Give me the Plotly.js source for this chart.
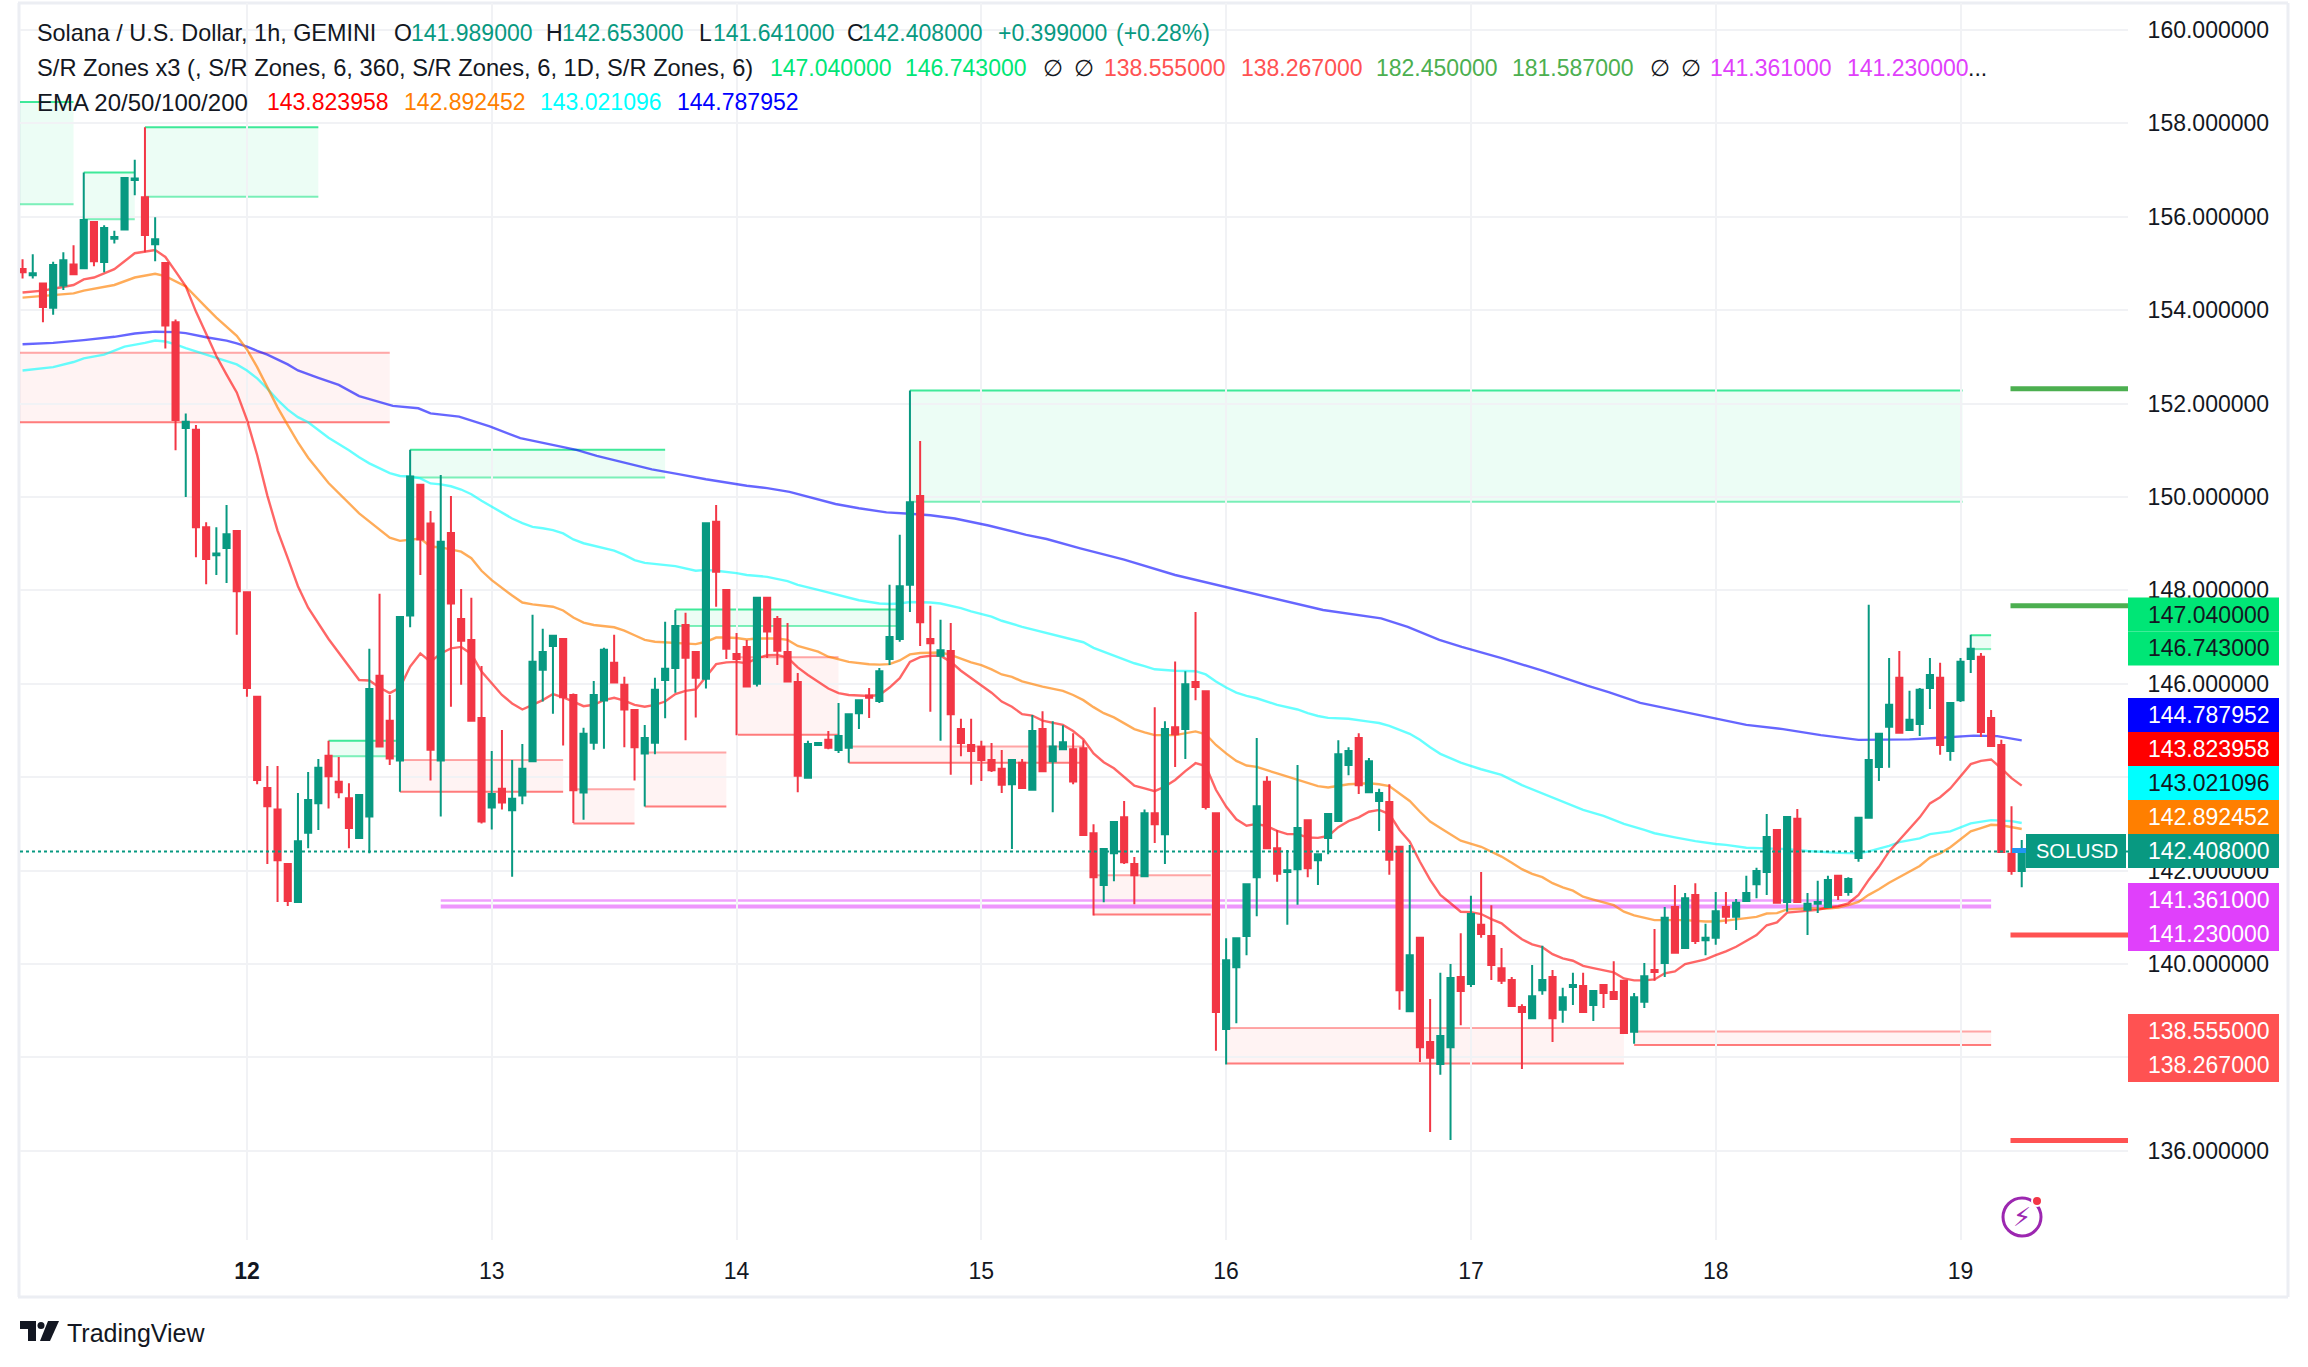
<!DOCTYPE html>
<html>
<head>
<meta charset="utf-8">
<script src="https://cdn.plot.ly/plotly-3.0.1.min.js"></script>
<style>html,body{margin:0;padding:0;background:#fff}#chart{width:2308px;height:1367px}</style>
</head>
<body>
<div id="chart"></div>
<script>
// Hourly candles: first candle is hour 2 counted from the 11th 00:00
const opens = [
154.88,154.75,154.57,154.05,154.53,154.98,154.90,155.89,155.03,155.53,
155.73,156.79,156.42,155.41,155.01,153.74,151.48,151.44,149.35,148.75,
148.91,149.27,147.96,145.72,143.77,143.31,142.14,141.33,142.81,143.44,
144.46,143.90,143.55,142.70,143.16,146.17,145.21,144.36,147.46,150.26,
149.43,144.36,149.23,147.39,146.94,145.27,143.35,143.75,143.29,143.61,
144.34,146.30,146.81,146.96,145.76,143.67,144.74,145.64,146.45,145.98,
145.44,144.51,144.74,146.08,146.34,147.26,146.68,146.11,149.47,148.01,
146.64,146.79,146.00,147.84,147.39,146.68,146.04,143.99,144.69,144.80,
144.58,144.63,145.37,145.75,145.63,146.53,146.96,148.12,150.02,146.96,
146.60,146.70,145.03,144.69,144.65,144.37,144.18,143.85,144.31,143.73,
145.03,144.34,144.60,144.60,144.62,142.80,141.69,142.37,143.14,142.14,
141.88,143.23,142.78,145.07,145.03,146.04,145.84,143.23,138.61,139.93,
140.60,141.86,143.90,142.48,141.97,142.03,143.08,142.22,142.70,143.06,
144.26,144.84,143.68,143.49,143.47,142.51,138.99,140.56,138.33,137.86,
138.22,139.72,139.57,140.84,140.60,139.91,139.66,139.08,138.84,139.44,
139.72,139.02,139.51,139.53,139.12,139.55,139.40,139.64,138.55,139.19,
139.87,140.02,141.22,140.34,141.48,140.51,140.56,141.22,141.01,141.35,
141.71,141.97,142.87,141.33,143.11,141.16,141.29,141.22,141.89,141.54,
142.27,143.13,144.22,145.08,146.13,145.01,145.14,145.91,146.13,144.56,
145.65,146.53,146.58,145.27,144.69,142.36,141.989];
const highs = [
155.09,155.20,154.57,155.04,155.24,155.39,156.95,155.89,155.82,155.70,
156.85,157.22,157.92,155.99,155.01,153.80,151.79,151.54,149.46,149.35,
149.83,149.27,147.96,145.72,144.24,144.24,142.16,143.66,144.11,144.39,
144.78,144.43,143.87,143.62,146.75,147.93,145.76,147.43,151.01,150.27,
149.70,150.47,150.02,148.03,147.84,146.38,144.56,145.01,144.37,144.71,
147.48,147.18,147.03,146.96,145.79,145.06,146.06,146.77,147.05,146.15,
145.44,145.12,146.13,147.33,147.58,147.52,146.68,149.44,149.83,148.01,
147.09,146.94,147.84,147.84,147.45,147.30,146.23,144.78,144.73,144.99,
145.59,145.37,145.67,145.91,146.34,148.12,149.19,152.28,151.20,147.67,
147.37,147.30,145.25,145.25,144.78,144.73,144.58,144.37,144.39,145.33,
145.41,145.20,145.11,144.94,144.79,142.99,142.46,143.04,143.49,142.29,
143.31,145.50,145.20,146.48,146.27,147.54,145.84,143.23,140.55,140.55,
141.73,144.84,144.02,142.87,142.44,144.26,143.08,142.35,143.21,144.79,
144.64,144.94,144.41,143.75,143.85,142.51,142.55,140.56,139.25,139.81,
140.00,140.66,141.46,141.97,141.26,140.34,139.72,139.14,139.98,140.39,
139.87,139.49,139.81,139.81,139.42,139.57,140.06,139.64,139.38,140.02,
140.75,141.22,141.69,141.52,141.73,140.86,141.54,141.54,141.39,141.89,
142.06,143.21,142.87,143.15,143.32,141.52,141.78,141.89,141.91,141.86,
143.13,147.69,144.93,146.55,146.70,145.85,145.91,146.55,146.45,145.59,
146.55,147.05,146.66,145.44,144.80,143.38,142.653];
const lows = [
154.68,154.68,153.74,153.90,154.43,154.77,154.90,154.94,154.81,155.43,
155.73,156.46,155.24,155.05,153.18,151.00,150.00,148.71,148.13,148.33,
148.16,147.05,145.72,143.85,142.14,141.33,141.24,141.33,142.48,142.87,
143.33,143.55,142.48,142.70,142.37,144.66,144.26,143.69,147.21,148.33,
143.93,143.16,145.51,145.98,145.21,143.01,142.88,143.31,141.87,143.42,
144.34,145.62,145.36,144.68,143.02,143.09,144.59,144.61,146.03,144.64,
143.93,143.37,144.49,145.26,145.81,144.79,145.28,145.90,147.65,146.53,
144.90,145.92,145.94,146.55,146.40,146.05,143.68,143.99,144.69,144.60,
144.52,144.31,145.03,145.27,145.59,146.40,146.90,147.54,146.81,145.40,
144.78,144.05,144.45,143.84,143.92,144.11,143.66,142.46,143.77,143.73,
144.13,143.25,144.60,143.85,142.76,141.04,141.32,141.77,142.14,141.28,
141.88,142.59,142.14,144.22,144.39,145.65,143.31,138.14,137.85,138.73,
140.19,141.02,142.48,141.76,140.84,141.27,141.86,141.69,142.35,143.06,
144.04,143.64,143.68,142.85,141.91,139.02,138.97,137.90,136.40,137.63,
136.23,138.69,139.51,140.56,139.66,139.57,139.08,137.75,138.84,139.34,
138.33,138.74,139.12,138.97,138.78,139.06,139.25,138.52,138.29,139.06,
139.64,139.72,140.24,140.32,140.43,140.19,140.41,140.86,140.73,141.35,
141.41,141.48,141.29,141.12,141.33,140.62,141.09,141.22,141.37,141.46,
142.19,143.13,143.92,144.20,144.93,144.99,144.88,145.46,144.48,144.35,
145.61,146.23,144.86,144.67,142.40,141.91,141.641];
const closes = [
154.81,154.79,154.07,154.97,155.07,154.77,155.93,155.05,155.76,155.57,
156.83,156.82,155.61,155.52,153.67,151.65,151.61,149.35,148.67,148.79,
149.20,147.98,145.91,143.94,143.38,142.22,141.35,142.63,143.51,144.20,
144.02,143.68,142.91,143.62,145.89,144.66,144.40,147.43,150.44,149.09,
144.59,149.04,147.72,146.92,145.21,143.05,143.64,143.46,143.54,144.18,
146.47,146.68,147.03,145.71,143.72,144.93,145.76,146.73,146.03,145.45,
144.64,144.84,145.87,146.32,147.24,146.56,146.13,149.44,148.40,146.75,
146.53,145.94,147.84,147.12,146.71,146.05,144.03,144.71,144.73,144.63,
144.88,145.35,145.65,145.70,146.27,147.00,148.09,149.89,147.32,146.87,
146.72,145.35,144.73,144.56,144.37,144.15,143.84,144.37,143.77,144.99,
144.13,144.66,144.75,143.91,142.76,141.86,142.46,143.04,142.18,141.90,
143.23,142.99,145.03,144.92,145.99,145.93,143.36,138.97,140.08,140.55,
141.71,143.38,142.48,141.93,142.01,142.91,142.05,142.35,143.21,144.49,
144.56,143.83,144.34,143.66,142.23,139.44,140.19,138.22,137.99,138.46,
139.70,139.42,141.07,140.64,139.98,139.64,139.10,138.97,139.31,139.66,
138.84,139.29,139.55,138.97,139.42,139.38,139.25,138.52,139.29,139.74,
139.83,140.99,140.24,141.41,140.49,140.56,141.13,141.01,141.31,141.52,
141.99,142.72,141.31,143.15,141.33,141.29,141.33,141.80,141.48,141.82,
143.13,144.37,144.93,145.55,144.95,145.23,145.87,146.19,144.69,145.59,
146.47,146.75,144.97,144.67,142.40,141.99,142.408];
const firstHour = 2;
const hours = opens.map((_, i) => firstHour + i);

// EMA lines
const ema20Hours = [2,4,5,7,8,9,11,13,15,16,17,18,19,20,21,22,23,24,25,26,27,28,29,30,32,35,36,37,38,39,40,41,42,43,44,45,46,47,48,49,50,51,52,53,54,55,56,57,58,59,60,61,62,63,64,65,66,67,68,69,70,71,72,73,74,75,76,77,78,79,80,81,82,83,84,85,86,87,88,89,90,91,92,93,94,95,96,97,98,99,100,101,102,103,104,105,106,107,108,109,110,111,112,113,114,115,116,117,118,119,120,121,122,123,124,125,126,127,128,129,130,131,132,133,134,135,136,137,138,139,140,141,142,143,144,145,146,147,148,149,150,151,152,153,154,155,156,157,158,159,160,161,162,163,164,165,166,167,168,169,170,171,172,173,174,175,176,177,178,179,180,181,182,183,184,185,186,187,188,189,190,191,192,193,194,195,196,197,198];
const ema20 = [154.38,154.42,154.46,154.54,154.66,154.70,154.88,155.22,155.29,155.14,154.83,154.51,153.97,153.49,153.02,152.62,152.24,151.65,150.90,150.03,149.28,148.69,148.09,147.63,146.96,146.08,146.07,145.92,145.80,145.92,146.37,146.65,146.47,146.65,146.76,146.79,146.64,146.26,146.01,145.76,145.58,145.45,145.55,145.65,145.78,145.71,145.62,145.52,145.55,145.65,145.70,145.64,145.55,145.51,145.55,145.62,145.78,145.85,145.88,146.15,146.42,146.46,146.47,146.44,146.55,146.61,146.62,146.56,146.35,146.19,146.05,145.90,145.80,145.76,145.75,145.74,145.76,145.92,146.12,146.47,146.57,146.60,146.60,146.47,146.28,146.12,145.97,145.81,145.62,145.51,145.35,145.32,145.21,145.17,145.12,144.99,144.81,144.51,144.32,144.19,144.01,143.82,143.76,143.70,143.80,143.94,144.13,144.30,144.24,143.73,143.37,143.10,142.96,143.00,142.95,142.85,142.78,142.78,142.71,142.70,142.74,142.93,143.06,143.14,143.26,143.30,143.21,142.87,142.62,142.19,141.80,141.48,141.30,141.12,141.11,141.07,140.96,140.87,140.69,140.53,140.42,140.36,140.21,140.12,140.07,139.96,139.91,139.87,139.82,139.69,139.65,139.65,139.67,139.80,139.84,140.00,140.05,140.10,140.19,140.27,140.37,140.49,140.62,140.83,140.89,141.10,141.12,141.14,141.16,141.21,141.24,141.30,141.48,141.80,142.08,142.41,142.66,142.91,143.14,143.44,143.57,143.76,144.03,144.28,144.35,144.38,144.19,143.98,143.82];
const ema50Hours = [2,5,7,8,11,13,15,16,18,20,21,23,24,25,26,27,28,29,30,32,35,36,38,39,40,41,42,43,45,46,47,48,50,51,52,54,55,56,57,58,60,61,62,63,64,66,68,69,70,71,72,73,74,76,77,78,80,81,83,85,86,87,88,89,90,92,93,95,96,97,98,99,100,102,104,105,106,107,108,109,110,111,112,113,115,116,117,118,119,120,121,122,123,125,126,127,128,129,130,131,132,134,135,136,137,138,139,140,141,143,145,147,148,149,150,151,152,153,154,155,156,158,159,160,162,163,165,167,168,169,171,172,173,174,175,177,179,180,181,182,183,184,185,186,187,188,189,190,191,192,193,194,195,196,197,198];
const ema50 = [154.27,154.32,154.36,154.42,154.54,154.70,154.78,154.73,154.51,154.06,153.84,153.45,153.16,152.78,152.35,151.92,151.54,151.17,150.84,150.30,149.65,149.47,149.13,149.06,149.09,149.11,148.94,148.92,148.83,148.69,148.42,148.22,147.89,147.74,147.70,147.65,147.57,147.42,147.31,147.26,147.21,147.14,147.04,146.94,146.90,146.88,146.85,146.90,146.99,146.99,146.98,146.95,146.97,146.97,146.94,146.81,146.69,146.58,146.47,146.42,146.41,146.42,146.50,146.63,146.66,146.67,146.62,146.46,146.40,146.31,146.20,146.15,146.05,145.94,145.85,145.76,145.65,145.50,145.37,145.28,145.15,145.03,144.96,144.90,144.90,144.94,144.98,144.92,144.69,144.51,144.35,144.25,144.22,144.08,144.01,143.95,143.88,143.81,143.78,143.81,143.85,143.87,143.85,143.81,143.65,143.49,143.26,143.05,142.91,142.64,142.51,142.30,142.17,142.03,141.93,141.86,141.73,141.64,141.57,141.44,141.38,141.26,141.12,141.04,140.94,140.94,140.94,140.91,140.91,140.93,140.98,141.01,141.08,141.09,141.17,141.19,141.19,141.21,141.26,141.33,141.48,141.60,141.74,141.86,141.98,142.10,142.28,142.37,142.50,142.67,142.84,142.91,142.98,142.97,142.93,142.89];
const ema100Hours = [2,5,7,8,10,12,14,15,16,17,18,20,22,23,24,25,26,27,28,29,30,32,34,35,36,37,38,39,40,41,42,43,44,45,46,47,48,50,51,52,53,54,55,56,57,58,60,61,62,63,65,66,68,69,70,71,72,73,75,77,78,80,82,84,86,87,88,89,91,92,94,95,97,98,100,102,104,106,107,108,110,111,112,113,115,117,118,119,120,121,122,123,125,127,128,129,130,132,134,135,136,138,139,140,141,142,143,145,147,149,151,153,155,157,159,161,162,164,166,168,169,171,173,175,177,180,182,183,185,186,188,189,191,193,195,197,198];
const ema100 = [152.71,152.78,152.89,152.97,153.05,153.22,153.30,153.35,153.33,153.27,153.19,153.05,152.91,152.84,152.71,152.54,152.32,152.08,151.87,151.71,151.60,151.27,151.00,150.85,150.72,150.61,150.51,150.45,150.44,150.40,150.29,150.27,150.23,150.16,150.06,149.92,149.79,149.54,149.44,149.36,149.33,149.29,149.22,149.09,149.01,148.96,148.85,148.76,148.65,148.59,148.54,148.52,148.42,148.44,148.42,148.40,148.37,148.33,148.29,148.20,148.12,148.01,147.90,147.79,147.72,147.71,147.72,147.75,147.74,147.72,147.62,147.55,147.44,147.35,147.22,147.11,147.01,146.89,146.77,146.69,146.52,146.44,146.38,146.31,146.28,146.27,146.20,146.05,145.92,145.81,145.74,145.69,145.55,145.45,145.37,145.31,145.27,145.25,145.19,145.16,145.10,144.93,144.80,144.64,144.50,144.40,144.31,144.17,144.05,143.83,143.65,143.48,143.30,143.17,143.00,142.87,142.80,142.71,142.63,142.57,142.55,142.49,142.48,142.46,142.42,142.38,142.37,142.41,142.53,142.61,142.69,142.78,142.84,143.01,143.08,143.06,143.02];
const ema200Hours = [2,5,8,11,13,15,17,18,20,22,23,24,25,26,28,29,31,33,35,38.3,40.8,42,44.8,47.8,50.8,54.3,56.3,58.3,61,63.7,66.3,69,73,75,77.2,79.4,81.7,84,86.7,89,91,93.4,96.7,100.4,102.4,105.7,110,115,120,125.2,129.5,135.2,137.8,140.9,143.1,147,151,155.4,157.5,160.6,166.8,171,174.6,178.3,182,187,189.6,193.3,195.6,198];
const ema200 = [153.27,153.30,153.36,153.43,153.50,153.54,153.53,153.51,153.42,153.35,153.29,153.22,153.13,153.05,152.84,152.71,152.55,152.40,152.16,151.95,151.90,151.79,151.72,151.51,151.26,151.11,151.01,150.88,150.73,150.59,150.49,150.38,150.24,150.19,150.11,149.99,149.85,149.76,149.67,149.64,149.61,149.54,149.39,149.19,149.10,148.90,148.66,148.33,148.07,147.79,147.58,147.40,147.22,146.94,146.79,146.55,146.28,145.96,145.82,145.59,145.31,145.12,145.03,144.90,144.80,144.81,144.84,144.89,144.88,144.79];

// S/R zones: start hour, end hour, top price, bottom price, kind
const zoneStart  = [1, 8, 14, 1, 40, 32, 39, 56, 63, 66, 89, 72, 83, 107, 120, 160, 193];
const zoneEnd    = [7, 13, 31, 38, 65, 38.6, 55, 62, 71, 88, 192.2, 82, 106, 118.5, 159, 195, 195];
const zoneTop    = [158.46,156.95,157.92,153.09,151.01,144.78,144.37,143.74,144.53,147.59,152.28,146.57,144.66,141.90,138.63,138.555,147.04];
const zoneBottom = [156.27,155.95,156.43,151.60,150.42,144.45,143.69,143.01,143.37,147.24,149.90,144.91,144.31,141.06,137.87,138.267,146.743];
const zoneKind   = ['g','g','g','r','g','g','r','r','r','g','g','r','r','r','r','r','g'];
const purpleStart = 43, purpleEnd = 195, purpleTop = 141.361, purpleBottom = 141.23;
const markerStart = 196.9;
const markerLevels = [152.32, 147.67, 140.62, 136.22];
const markerColors = ['#4caf50', '#4caf50', '#ff5252', '#ff5252'];

// Axis labels
const priceTicks = [136,138,140,142,144,146,148,150,152,154,156,158,160];
const dayTicks = [24,48,72,96,120,144,168,192];
const dayLabels = ['<b>12</b>','13','14','15','16','17','18','19'];
const lastPrice = 142.408;

// Price labels on the axis
const tagText  = ['147.040000','146.743000','144.787952','143.823958','143.021096','142.892452','142.408000','141.361000','141.230000','138.555000','138.267000'];
const tagFill  = ['#00e676','#00e676','#0000ff','#ff0000','#00ffff','#ff7f00','#089981','#e040fb','#e040fb','#ff5252','#ff5252'];
const tagInk   = ['#131722','#131722','#ffffff','#ffffff','#131722','#ffffff','#ffffff','#ffffff','#ffffff','#ffffff','#ffffff'];
const tagTop   = [597.5,631.5,698,732,766,800,834,883,917,1014,1048];

// Legend rows
const TEAL='#089981', INK='#131722', GRN='#00e676', RED='#ff5252', DGR='#4caf50', PUR='#e040fb';
const legendItems = [
 ['Solana / U.S. Dollar, 1h, GEMINI',36,33,INK,23.4],['O',393,33,INK,23],['141.989000',410,33,TEAL,23],['H',545,33,INK,23],['142.653000',561,33,TEAL,23],['L',698,33,INK,23],['141.641000',712,33,TEAL,23],['C',846,33,INK,23],['142.408000',860,33,TEAL,23],['+0.399000',997,33,TEAL,23],['(+0.28%)',1115,33,TEAL,23],
 ['S/R Zones x3 (, S/R Zones, 6, 360, S/R Zones, 6, 1D, S/R Zones, 6)',36,68,INK,23.7],['147.040000',769,68,GRN,23],['146.743000',904,68,GRN,23],['∅',1042,68,INK,23],['∅',1073,68,INK,23],['138.555000',1103,68,RED,23],['138.267000',1240,68,RED,23],['182.450000',1375,68,DGR,23],['181.587000',1511,68,DGR,23],['∅',1649,68,INK,23],['∅',1680,68,INK,23],['141.361000',1709,68,PUR,23],['141.230000',1846,68,PUR,23],['...',1967,68,INK,23],
 ['EMA 20/50/100/200',36,102,INK,24],['143.823958',266,102,'#ff0000',23],['142.892452',403,102,'#ff7f00',23],['143.021096',539,102,'#00ffff',23],['144.787952',676,102,'#0000ff',23]
];

// ---- page geometry
const FONT = '"Liberation Sans", Arial, sans-serif';
const L = 20, R = 2128, T = 3, B = 1240;
const pxX = v => (v - L) / (R - L);
const pxY = v => 1 - (v - T) / (B - T);
const xRange = [1.75, 208.42];
const yRange = [134.09, 160.578];

const shapes = [];
const annotations = [];

// frame
const frame = '#eceef3';
[[18,3,2288,3],[19,3,19,1297],[18,1297,2288,1297],[2288,3,2288,1297]].forEach(f => shapes.push({
  type:'line', xref:'paper', yref:'paper', layer:'below',
  x0:pxX(f[0]), x1:pxX(f[2]), y0:pxY(f[1]), y1:pxY(f[3]), line:{color:frame, width:3}
}));

// zones
zoneStart.forEach((s, i) => {
  const g = zoneKind[i] === 'g';
  const fill = g ? 'rgba(0,230,118,0.075)' : 'rgba(255,82,82,0.07)';
  const topC = g ? 'rgba(0,225,120,0.75)' : 'rgba(255,82,82,0.5)';
  const botC = g ? 'rgba(0,225,120,0.5)' : 'rgba(255,82,82,0.75)';
  shapes.push({type:'rect', xref:'x', yref:'y', layer:'below', x0:s, x1:zoneEnd[i], y0:zoneBottom[i], y1:zoneTop[i], fillcolor:fill, line:{width:0}});
  shapes.push({type:'line', xref:'x', yref:'y', layer:'below', x0:s, x1:zoneEnd[i], y0:zoneTop[i], y1:zoneTop[i], line:{color:topC, width:2}});
  shapes.push({type:'line', xref:'x', yref:'y', layer:'below', x0:s, x1:zoneEnd[i], y0:zoneBottom[i], y1:zoneBottom[i], line:{color:botC, width:2}});
});
shapes.push({type:'line', xref:'x', yref:'y', layer:'below', x0:purpleStart, x1:purpleEnd, y0:purpleTop, y1:purpleTop, line:{color:'rgba(224,64,251,0.5)', width:2.5}});
shapes.push({type:'line', xref:'x', yref:'y', layer:'below', x0:purpleStart, x1:purpleEnd, y0:purpleBottom, y1:purpleBottom, line:{color:'rgba(224,64,251,0.55)', width:4}});

// short level markers at the right
markerLevels.forEach((v, i) => shapes.push({type:'line', xref:'x', yref:'y', layer:'below', x0:markerStart, x1:xRange[1], y0:v, y1:v, line:{color:markerColors[i], width:5}}));

// last price dotted line
shapes.push({type:'line', xref:'x', yref:'y', layer:'above', x0:xRange[0], x1:xRange[1], y0:lastPrice, y1:lastPrice, line:{color:'#089981', width:2, dash:'dot'}});

// axis tags
tagText.forEach((t, i) => {
  shapes.push({type:'rect', xref:'paper', yref:'paper', layer:'above', x0:pxX(2128), x1:pxX(2279), y0:pxY(tagTop[i]+34), y1:pxY(tagTop[i]), fillcolor:tagFill[i], line:{width:0}});
  annotations.push({xref:'paper', yref:'paper', x:pxX(2146), y:pxY(tagTop[i]+17), xanchor:'left', yanchor:'middle', showarrow:false, text:t, font:{family:FONT, size:23, color:tagInk[i]}});
});
// SOLUSD tag + blue tick
shapes.push({type:'rect', xref:'paper', yref:'paper', layer:'above', x0:pxX(2012), x1:pxX(2026), y0:pxY(853), y1:pxY(848), fillcolor:'#2196f3', line:{width:0}});
shapes.push({type:'rect', xref:'paper', yref:'paper', layer:'above', x0:pxX(2026), x1:pxX(2126), y0:pxY(868), y1:pxY(834), fillcolor:'#089981', line:{width:0}});
annotations.push({xref:'paper', yref:'paper', x:pxX(2034), y:pxY(851), xanchor:'left', yanchor:'middle', showarrow:false, text:'SOLUSD', font:{family:FONT, size:20, color:'#ffffff'}});

// legend
legendItems.forEach(it => annotations.push({xref:'paper', yref:'paper', x:pxX(it[1]), y:pxY(it[2]), xanchor:'left', yanchor:'middle', showarrow:false, borderpad:0, text:it[0], font:{family:FONT, size:it[4], color:it[3]}}));

// TradingView mark
const pathOf = pts => 'M' + pts.map(p => pxX(p[0]) + ',' + pxY(p[1])).join('L') + 'Z';
shapes.push({type:'path', xref:'paper', yref:'paper', path:pathOf([[20,1321],[36,1321],[36,1341],[28,1341],[28,1329],[20,1329]]), fillcolor:'#131722', line:{width:0}});
shapes.push({type:'circle', xref:'paper', yref:'paper', x0:pxX(37.5), x1:pxX(44.5), y0:pxY(1329), y1:pxY(1322), fillcolor:'#131722', line:{width:0}});
shapes.push({type:'path', xref:'paper', yref:'paper', path:pathOf([[48,1321],[59,1321],[50,1341],[40,1341]]), fillcolor:'#131722', line:{width:0}});
annotations.push({xref:'paper', yref:'paper', x:pxX(65), y:pxY(1333), xanchor:'left', yanchor:'middle', showarrow:false, text:'TradingView', font:{family:FONT, size:25, color:'#131722'}});

// replay icon
shapes.push({type:'circle', xref:'paper', yref:'paper', layer:'above', x0:pxX(2003), x1:pxX(2041), y0:pxY(1236), y1:pxY(1198), line:{color:'#9c27b0', width:3}});
shapes.push({type:'circle', xref:'paper', yref:'paper', layer:'above', x0:pxX(2032), x1:pxX(2042), y0:pxY(1206), y1:pxY(1196), fillcolor:'#f23645', line:{color:'#ffffff', width:2}});
annotations.push({xref:'paper', yref:'paper', x:pxX(2022), y:pxY(1217), xanchor:'center', yanchor:'middle', showarrow:false, text:'⚡', font:{family:'"DejaVu Sans"', size:26, color:'#9c27b0'}});

const lineStyle = c => ({color:c, width:2.4});
const traces = [
  {type:'scatter', mode:'lines', x:ema200Hours, y:ema200, line:lineStyle('rgba(0,0,255,0.6)'), name:'EMA 200', hoverinfo:'skip'},
  {type:'scatter', mode:'lines', x:ema100Hours, y:ema100, line:lineStyle('rgba(0,255,255,0.6)'), name:'EMA 100', hoverinfo:'skip'},
  {type:'scatter', mode:'lines', x:ema50Hours, y:ema50, line:lineStyle('rgba(255,127,0,0.65)'), name:'EMA 50', hoverinfo:'skip'},
  {type:'scatter', mode:'lines', x:ema20Hours, y:ema20, line:lineStyle('rgba(255,0,0,0.6)'), name:'EMA 20', hoverinfo:'skip'},
  {type:'candlestick', x:hours, open:opens, high:highs, low:lows, close:closes, yaxis:'y2', name:'SOLUSD', whiskerwidth:0,
    increasing:{line:{color:'#089981', width:2}, fillcolor:'#089981'},
    decreasing:{line:{color:'#f23645', width:2}, fillcolor:'#f23645'}, hoverinfo:'skip'}
];

const layout = {
  width:2308, height:1367, showlegend:false, paper_bgcolor:'#ffffff', plot_bgcolor:'#ffffff',
  margin:{l:L, r:2308-R, t:T, b:1367-B, pad:0}, boxgap:0.4, boxgroupgap:0, boxmode:'overlay',
  font:{family:FONT, color:'#131722'},
  xaxis:{type:'linear', range:xRange, fixedrange:true, tickmode:'array', tickvals:dayTicks, ticktext:dayLabels,
    showgrid:true, gridcolor:'#f1f2f5', gridwidth:2, zeroline:false, showline:false,
    ticks:'outside', ticklen:10, tickcolor:'rgba(0,0,0,0)', tickfont:{family:FONT, size:23, color:'#131722'}, rangeslider:{visible:false}},
  yaxis:{type:'linear', range:yRange, fixedrange:true, side:'right', tickmode:'array', tickvals:priceTicks,
    ticktext:priceTicks.map(v => v.toFixed(6)),
    showgrid:true, gridcolor:'#f1f2f5', gridwidth:2, zeroline:false, showline:false,
    ticks:'outside', ticklen:14, tickcolor:'rgba(0,0,0,0)', tickfont:{family:FONT, size:23, color:'#131722'}},
  yaxis2:{overlaying:'y', range:yRange, fixedrange:true, visible:false, side:'right'},
  shapes:shapes, annotations:annotations
};
Plotly.newPlot('chart', traces, layout, {displayModeBar:false, staticPlot:true});
</script>
</body>
</html>
